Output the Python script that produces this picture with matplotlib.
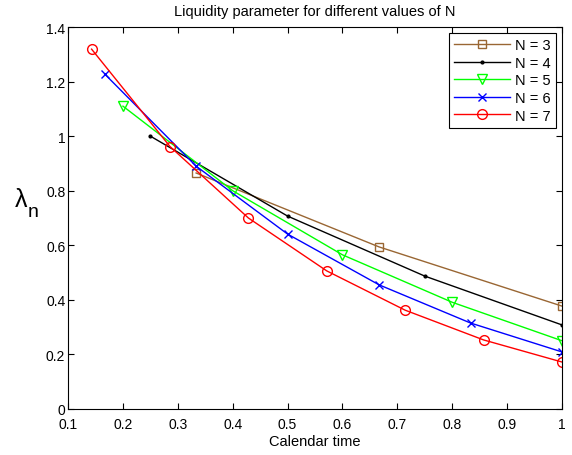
import numpy as np
import matplotlib
matplotlib.use("Agg")
import matplotlib.pyplot as plt

plt.rcParams['font.family'] = ['Liberation Sans', 'DejaVu Sans']

# lambda_n values, one series per N
# calendar time for each point is k/N, k = 1..N
lam3 = [0.865, 0.594, 0.377]
lam4 = [1.0, 0.707, 0.487, 0.308]
lam5 = [1.11, 0.80, 0.565, 0.391, 0.25]
lam6 = [1.228, 0.89, 0.641, 0.455, 0.315, 0.209]
lam7 = [1.319, 0.962, 0.70, 0.506, 0.362, 0.253, 0.172]

series = [
    (3, lam3, (0.6, 0.4, 0.2), 's', 6, 'none'),
    (4, lam4, 'k', '.', 4, 'k'),
    (5, lam5, (0, 1, 0), 'v', 7, 'none'),
    (6, lam6, 'b', 'x', 6, 'b'),
    (7, lam7, 'r', 'o', 7, 'none'),
]


def main():
    fig = plt.figure(figsize=(5.72, 4.56), dpi=100)
    ax = fig.add_axes([0.119, 0.101, 0.8635, 0.8375])

    for n, vals, col, mk, ms, mfc in series:
        t = np.arange(1, n + 1) / n
        ax.plot(t, vals, color=col, marker=mk, markersize=ms,
                markerfacecolor=mfc, markeredgecolor=col, linewidth=1,
                label="N = %d" % n)

    ax.set_xlim(0.1, 1.0)
    ax.set_ylim(0, 1.4)
    ax.set_xticks(np.arange(0.1, 1.01, 0.1))
    ax.set_xticklabels(['0.1', '0.2', '0.3', '0.4', '0.5', '0.6', '0.7', '0.8', '0.9', '1'])
    ax.set_yticks(np.arange(0, 1.41, 0.2))
    ax.set_yticklabels(['0', '0.2', '0.4', '0.6', '0.8', '1', '1.2', '1.4'])
    ax.tick_params(direction='in', top=True, right=True, labelsize=10, length=4)
    ax.tick_params(axis='x', pad=6)
    ax.tick_params(axis='y', pad=2)

    ax.set_title("Liquidity parameter for different values of N", fontsize=10.5, pad=9)
    ax.set_xlabel("Calendar time", fontsize=10.5, labelpad=2)

    # y label: lambda with a large subscript n, as in the original
    fig.text(0.026, 0.562, "λ", fontsize=18, ha='left', va='center')
    fig.text(0.049, 0.533, "n", fontsize=14, ha='left', va='center')

    leg = ax.legend(loc='upper right', fontsize=10.5, fancybox=False,
                    edgecolor='k', framealpha=1, borderaxespad=0.4,
                    handlelength=3.8, handletextpad=0.4, labelspacing=0.25,
                    borderpad=0.35)
    leg.get_frame().set_linewidth(0.8)

    fig.savefig("out.png", dpi=100)


if __name__ == "__main__":
    main()
